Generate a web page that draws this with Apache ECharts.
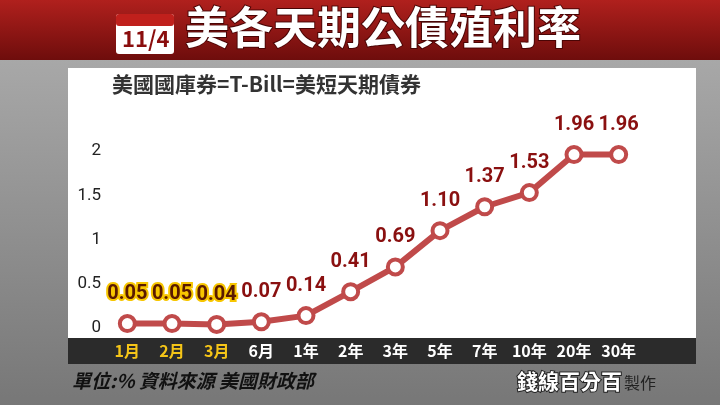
<!DOCTYPE html>
<html><head><meta charset="utf-8">
<script src="https://cdn.jsdelivr.net/npm/echarts@6/dist/echarts.min.js"></script>
<style>body{margin:0;background:#8f8f8f}#c{width:720px;height:405px}</style>
</head><body><div id="c"></div>
<script>
const categories = ['1月','2月','3月','6月','1年','2年','3年','5年','7年','10年','20年','30年'];
const yields = [0.05,0.05,0.04,0.07,0.14,0.41,0.69,1.10,1.37,1.53,1.96,1.96];
const labels = ['0.05','0.05','0.04','0.07','0.14','0.41','0.69','1.10','1.37','1.53','1.96','1.96'];
const yTicks = [0,0.5,1,1.5,2];

const chart = echarts.init(document.getElementById('c'));
const bg = new echarts.graphic.LinearGradient(0,0,0,1,[{offset:0,color:'#b0b0b0'},{offset:1,color:'#777'}]);
chart.setOption({
  backgroundColor: bg,
  graphic: [
    {type:'rect',shape:{x:0,y:0,width:720,height:60},style:{fill:new echarts.graphic.LinearGradient(0,0,0,1,[{offset:0,color:'#b0201d'},{offset:1,color:'#6e0d0c'}])}},
    {type:'rect',shape:{x:116,y:14,width:58,height:40,r:3},style:{fill:'#fff'}},
    {type:'rect',shape:{x:116,y:14,width:58,height:12,r:3},style:{fill:'#c0201c'}},
    {type:'text',left:122,top:28,style:{text:'11/4',fill:'#8a0d0d',font:'bold 22px "Noto Sans CJK TC"'}},
    {type:'text',left:184,top:4,style:{text:'美各天期公債殖利率',fill:'#fff',font:'bold 44px "Noto Sans CJK TC"',stroke:'#4a0505',lineWidth:2}},
    {type:'rect',shape:{x:68,y:68,width:628,height:270},style:{fill:'#fff'}},
    {type:'rect',shape:{x:68,y:338,width:628,height:26},style:{fill:'#2b2b2b'}},
    {type:'text',left:112,top:74,style:{text:'美國國庫券=T-Bill=美短天期債券',fill:'#333',font:'bold 21px "Noto Sans CJK TC"'}},
    {type:'text',left:72,top:371,style:{text:'單位:% 資料來源 美國財政部',fill:'#111',font:'italic bold 19px "Noto Sans CJK TC"'}},
    {type:'text',left:516,top:370,style:{text:'錢線百分百',fill:'#fff',font:'bold 21px "Noto Sans CJK TC"',stroke:'#222',lineWidth:2}},
    {type:'text',left:624,top:375,style:{text:'製作',fill:'#222',font:'16px "Noto Sans CJK TC"'}}
  ],
  grid:{left:105,right:79,top:151,bottom:77},
  xAxis:{type:'category',data:categories,boundaryGap:true,
    axisLine:{show:false},axisTick:{show:false},
    axisLabel:{interval:0,margin:15,fontSize:16,fontWeight:'bold',fontFamily:'Noto Sans CJK TC',
      color:(v,i)=>i<3?'#f5c518':'#fff'}},
  yAxis:{type:'value',min:0,max:2,interval:0.5,
    splitLine:{show:false},axisLine:{show:false},axisTick:{show:false},
    axisLabel:{fontSize:17,color:'#222',fontFamily:'Roboto',margin:4,formatter:v=>yTicks.includes(v)?String(v):''}},
  series:[{type:'line',data:yields.map((v,i)=>i<3?{value:v,label:{color:'#5a1a00',textBorderColor:'#f7c600',textBorderWidth:4}}:v),
    symbol:'circle',symbolSize:15,
    lineStyle:{color:'#c04a4a',width:6},
    itemStyle:{color:'#fff',borderColor:'#c04a4a',borderWidth:4},
    label:{show:true,position:'top',distance:10,fontSize:20,fontWeight:'bold',fontFamily:'Roboto',
      formatter:p=>labels[p.dataIndex],
      color:'#8a1010',textBorderColor:'#fff',textBorderWidth:3},
    labelLayout:{hideOverlap:false}
  }]
});
</script></body></html>
